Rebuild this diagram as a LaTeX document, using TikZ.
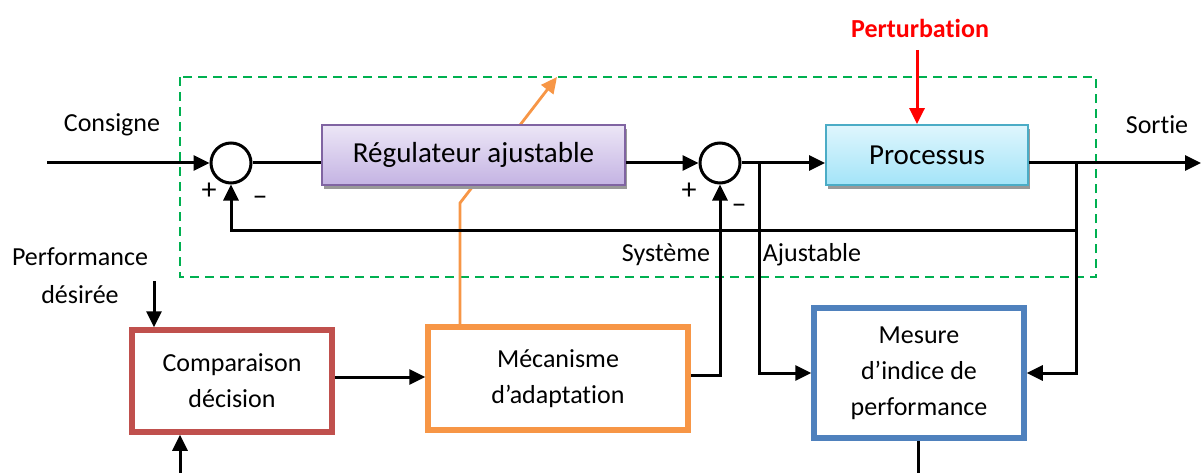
\documentclass[tikz,border=0pt]{standalone}
\usepackage{fontspec}
\setmainfont{Carlito}[Ligatures=NoCommon]
\usetikzlibrary{arrows.meta,shadows,calc}

\definecolor{grn}{HTML}{00B050}
\definecolor{purp}{HTML}{8064A2}
\definecolor{purptop}{HTML}{ECE6F6}
\definecolor{purpbot}{HTML}{C4B3E3}
\definecolor{cyanb}{HTML}{4BACC6}
\definecolor{cyantop}{HTML}{DFF6FD}
\definecolor{cyanbot}{HTML}{A3E4F8}
\definecolor{redb}{HTML}{C0504D}
\definecolor{orng}{HTML}{F79646}
\definecolor{blueb}{HTML}{4F81BD}

\tikzset{
  every node/.style={font=\fontsize{26}{34}\selectfont, inner sep=0pt},
  wire/.style={line width=3pt, black},
  tip/.style={-{Triangle[length=16pt,width=15pt]}},
  arr/.style={wire, tip},
  sum/.style={circle, draw, line width=3pt, minimum size=40pt, fill=white},
  topbox/.style={draw, line width=1.8pt, minimum height=60pt,
    font=\fontsize{29}{34}\selectfont,
    drop shadow={shadow xshift=2pt, shadow yshift=-4pt, fill=black!40, opacity=1}},
  lowbox/.style={line width=5.5pt, fill=white, align=center,
    font=\fontsize{26}{36}\selectfont},
  sign/.style={font=\fontsize{30}{30}\selectfont},
}

\begin{document}
\begin{tikzpicture}[x=1pt, y=-1pt]
\useasboundingbox (0,0) rectangle (1201,473);

% adjustable system frame
\draw[grn, line width=2.8pt, dash pattern=on 9pt off 6pt] (180,77) rectangle (1096,277);

% orange adaptation arrow (passes behind the controller block)
\coordinate (o1) at (460,327);
\coordinate (o2) at (460,203);
\coordinate (o3) at (557,77);
\draw[orng, line width=2.8pt, tip] (o1) -- (o2) -- (o3);

% summing junctions
\node[sum] (s1) at (231,163) {};
\node[sum] (s2) at (720,163) {};
\node[sign] at (209,191) {+};
\node[sign] at (260,201) {\textendash};
\node[sign] at (689,191) {+};
\node[sign] at (739,209) {\textendash};

% upper blocks
\node[topbox, draw=purp, top color=purptop, bottom color=purpbot, minimum width=303pt]
  (reg) at (473.5,155) {Régulateur ajustable};
\node[topbox, draw=cyanb, top color=cyantop, bottom color=cyanbot, minimum width=202pt]
  (proc) at (927,155) {Processus};

% lower blocks
\node[lowbox, draw=redb, minimum width=200pt, minimum height=102pt]
  (comp) at (232,381) {Comparaison\\décision};
\node[lowbox, draw=orng, minimum width=260pt, minimum height=103pt]
  (mec) at (558,378.5) {Mécanisme\\d’adaptation};
\node[lowbox, draw=blueb, minimum width=210pt, minimum height=130pt]
  (mes) at (919,373) {Mesure\\d’indice de\\performance};

% labels
\node (consigne) at (112,125) {Consigne};
\node (sortie) at (1157,125) {Sortie};
\node[text=red, font=\fontsize{26}{30}\selectfont\bfseries] (pert) at (920,28) {Perturbation};
\node[align=center, font=\fontsize{26}{38}\selectfont] (perf) at (80,276) {Performance\\désirée};
\node (sys) at (666,255) {Système};
\node (ajus) at (812,255) {Ajustable};

% main loop
\coordinate (in) at (47,163);
\coordinate (out) at (1201,163);
\coordinate (b1) at (1076,163);
\coordinate (b2) at (759,163);
\coordinate (fb) at (1076,230);
\draw[arr] (in) -- (s1.west);
\draw[wire] (s1.east) -- (reg.west |- s1.east);
\draw[arr] (reg.east |- s2.west) -- (s2.west);
\draw[arr] (s2.east) -- (proc.west |- s2.east);
\draw[arr] (proc.east |- out) -- (out);
\draw[arr] (fb) -| (s1.south);
\draw[wire] (b1) -- (fb);
\draw[arr] (fb) |- (mes.east);
\draw[arr] (b2) |- (mes.west);

% disturbance
\coordinate (p1) at (917,50);
\draw[red, line width=3pt, tip] (p1) -- (p1 |- proc.north);

% adaptation path
\coordinate (pd) at (154,281);
\draw[arr] (pd) -- (pd |- comp.north);
\coordinate (cin) at (180,473);
\draw[arr] (cin) -- (cin |- comp.south);
\draw[arr] (comp.east |- 0,377) -- (mec.west |- 0,377);
\draw[arr] (mec.east |- 0,375) -| (s2.south);
\coordinate (mout) at (918,473);
\draw[wire] (mes.south -| mout) -- (mout);
\end{tikzpicture}
\end{document}
